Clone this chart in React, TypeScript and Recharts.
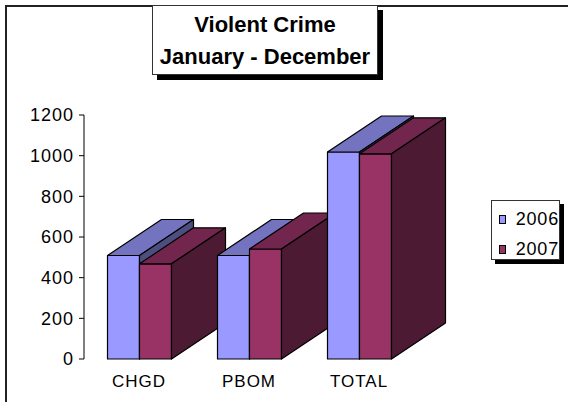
import { Bar, BarChart, Legend, XAxis, YAxis } from "recharts";

const categories = ["CHGD", "PBOM", "TOTAL"];
const crimes2006 = [509, 509, 1018];
const crimes2007 = [468, 541, 1009];
const yTicks = [0, 200, 400, 600, 800, 1000, 1200];

const data = categories.map((name, i) => ({
  name,
  y2006: crimes2006[i],
  y2007: crimes2007[i]
}));

const FONT = "'Liberation Sans', Arial, sans-serif";
const DEPTH_X = 54;
const DEPTH_Y = 36;

const colors = {
  y2006: { front: "#9999FF", top: "#7373C0", side: "#4D4D80" },
  y2007: { front: "#993366", top: "#73264D", side: "#4D1A33" }
};

type BoxProps = {
  x: number;
  y: number;
  w: number;
  h: number;
  palette: { front: string; top: string; side: string };
};

const Box3D = ({ x, y, w, h, palette }: BoxProps) => {
  const top = `${x},${y} ${x + DEPTH_X},${y - DEPTH_Y} ${x + w + DEPTH_X},${y - DEPTH_Y} ${x + w},${y}`;
  const side = `${x + w},${y} ${x + w + DEPTH_X},${y - DEPTH_Y} ${x + w + DEPTH_X},${y + h - DEPTH_Y} ${x + w},${y + h}`;
  return (
    <g stroke="#000" strokeWidth={1.2} strokeLinejoin="round">
      <rect x={x} y={y} width={w} height={h} fill={palette.front} />
      <polygon points={top} fill={palette.top} />
      <polygon points={side} fill={palette.side} />
    </g>
  );
};

// the 2007 bar draws the whole pair so that categories stack left to right
const PairShape = (props: any) => {
  const { x, y, width, height, payload } = props;
  const base = y + height;
  const perUnit = height / payload.y2007;
  const h06 = payload.y2006 * perUnit;
  return (
    <g>
      <Box3D x={x - width} y={base - h06} w={width} h={h06} palette={colors.y2006} />
      <Box3D x={x} y={y} w={width} h={height} palette={colors.y2007} />
    </g>
  );
};

const LegendBox = ({ payload }: any) => (
  <div
    style={{
      width: 69,
      height: 60,
      border: "1px solid #333",
      background: "#fff",
      boxShadow: "4px 4px 0 #000",
      fontFamily: FONT,
      fontSize: 18,
      letterSpacing: 0.8,
      boxSizing: "border-box",
      paddingTop: 6,
      paddingLeft: 7
    }}
  >
    {(payload || []).map((entry: any) => (
      <div
        key={entry.value}
        style={{ display: "flex", alignItems: "center", height: 24, marginBottom: 6 }}
      >
        <span
          style={{
            width: 7,
            height: 7,
            border: "1px solid #000",
            background: entry.color,
            marginRight: 10
          }}
        />
        <span>{entry.value}</span>
      </div>
    ))}
  </div>
);

export default function App() {
  return (
    <div
      style={{
        position: "fixed",
        left: 0,
        top: 0,
        width: 568,
        height: 402,
        overflow: "hidden",
        background: "#fff"
      }}
    >
      <div
        style={{
          position: "absolute",
          left: 5,
          top: 5,
          width: 700,
          height: 600,
          borderLeft: "2px solid #222",
          borderTop: "2px solid #222"
        }}
      />
      <BarChart
        width={568}
        height={402}
        data={data}
        margin={{ top: 115, right: 154, bottom: 13, left: 24 }}
        barCategoryGap={23.5}
        barGap={0}
        style={{ position: "absolute", left: 0, top: 0 }}
      >
        <XAxis
          dataKey="name"
          height={30}
          axisLine={false}
          tickLine={false}
          tickSize={0}
          tickMargin={16}
          tick={{ fill: "#000", fontSize: 17, fontFamily: FONT, letterSpacing: 1 }}
        />
        <YAxis
          width={60}
          domain={[0, 1200]}
          ticks={yTicks}
          interval={0}
          tickSize={5}
          tickMargin={5}
          stroke="#000"
          tick={{ fill: "#000", fontSize: 18, fontFamily: FONT, letterSpacing: 1 }}
        />
        <Legend
          layout="vertical"
          align="center"
          verticalAlign="middle"
          content={<LegendBox />}
          wrapperStyle={{ left: 491, top: 200, width: 70 }}
        />
        <Bar
          dataKey="y2006"
          name="2006"
          fill={colors.y2006.front}
          isAnimationActive={false}
          shape={() => <g />}
        />
        <Bar
          dataKey="y2007"
          name="2007"
          fill={colors.y2007.front}
          isAnimationActive={false}
          shape={<PairShape />}
        />
      </BarChart>
      <div
        style={{
          position: "absolute",
          left: 152,
          top: 5,
          width: 226,
          height: 70,
          boxSizing: "border-box",
          border: "1px solid #333",
          background: "#fff",
          boxShadow: "5px 5px 0 #000",
          fontFamily: FONT,
          fontWeight: "bold",
          fontSize: 22,
          lineHeight: "32px",
          textAlign: "center",
          paddingTop: 3
        }}
      >
        Violent Crime
        <br />
        January - December
      </div>
    </div>
  );
}
